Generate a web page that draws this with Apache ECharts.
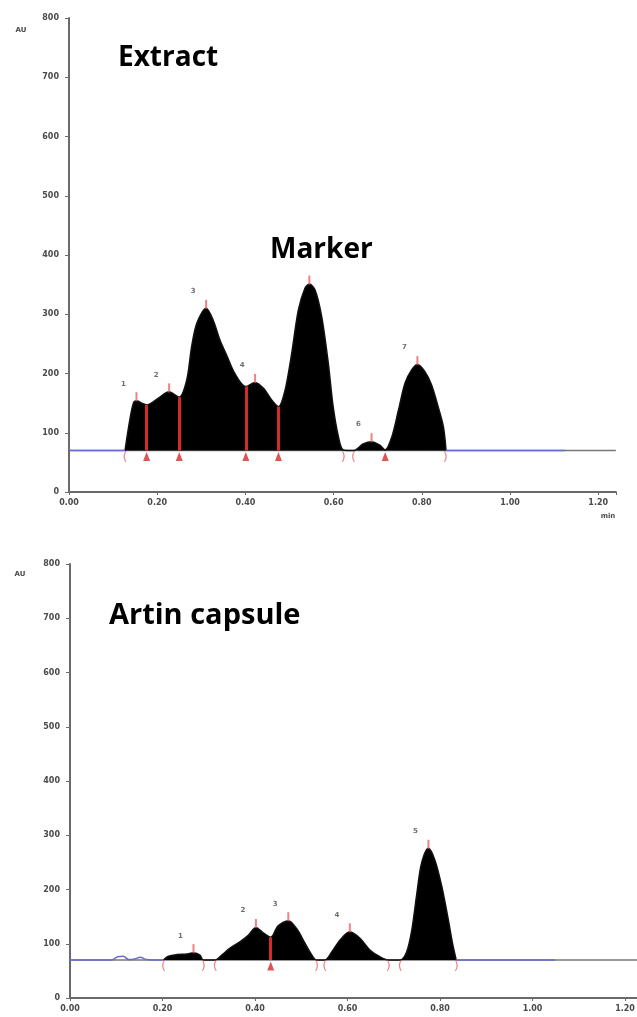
<!DOCTYPE html>
<html><head><meta charset="utf-8">
<script src="https://cdn.jsdelivr.net/npm/echarts@6/dist/echarts.min.js"></script>
<style>html,body{margin:0;padding:0;background:#fff}#c{width:637px;height:1017px}</style>
</head><body><div id="c"></div>
<script>
// ---------- data ----------
const baselineAU = 70;
const xMax = 1.24;
const yMax = 800;

// Extract trace [min, AU]
const extractTrace = [[0.127,70],[0.138,122],[0.146,150],[0.153,154],[0.165,150],[0.176,147],[0.202,158],[0.227,169],[0.240,164],[0.250,160],[0.267,189],[0.278,245],[0.290,285],[0.311,310],[0.327,290],[0.342,257],[0.358,230],[0.376,200],[0.401,178],[0.422,185],[0.441,175],[0.460,155],[0.475,144],[0.490,172],[0.505,234],[0.520,307],[0.535,344],[0.545,351],[0.558,341],[0.573,296],[0.588,217],[0.599,144],[0.611,93],[0.622,71],[0.645,70],[0.667,81],[0.686,85],[0.705,79],[0.717,71],[0.732,93],[0.747,138],[0.762,184],[0.777,206],[0.790,215],[0.807,203],[0.822,181],[0.837,144],[0.849,110],[0.855,70]];
const extractBlue1 = [[0,70],[0.127,70]];
const extractBlue2 = [[0.855,70],[1.125,70]];
const extractPeakX = [0.153,0.227,0.311,0.422,0.545,0.686,0.790];
const extractPeakY = [154,169,310,185,351,85,215];
const extractPeakLabels = ['1','2','3','4','','6','7'];
const extractDividerX = [0.176,0.250,0.401,0.475];
const extractDividerY = [147,160,178,144];
const extractFeetX = [0.176,0.250,0.401,0.475,0.717];
const extractOpenX = [0.127,0.645];
const extractCloseX = [0.622,0.853];

// Artin capsule trace [min, AU]
const capsuleTrace = [[0.202,70],[0.213,77],[0.231,80],[0.252,81],[0.267,83.5],[0.281,79],[0.288,70],[0.314,70],[0.328,79],[0.346,92],[0.368,104],[0.386,116],[0.402,130],[0.418,120],[0.434,112],[0.450,133],[0.472,142.5],[0.490,128],[0.508,101],[0.523,79],[0.533,70],[0.551,70],[0.566,85],[0.584,107],[0.605,122],[0.627,110],[0.649,88],[0.670,76],[0.688,70],[0.714,70],[0.728,85],[0.739,125],[0.750,193],[0.760,248],[0.775,276],[0.789,254],[0.804,205],[0.818,144],[0.827,101],[0.835,70]];
const capsuleBlue1 = [[0,70],[0.09,70],[0.103,76],[0.115,77],[0.127,71],[0.14,72],[0.152,75],[0.165,71],[0.202,70]];
const capsuleBlue2 = [[0.835,70],[1.049,70]];
const capsulePeakX = [0.267,0.402,0.472,0.605,0.775];
const capsulePeakY = [83.5,130,142.5,122,276];
const capsulePeakLabels = ['1','2','3','4','5'];
const capsuleDividerX = [0.434];
const capsuleDividerY = [112];
const capsuleFeetX = [0.434];
const capsuleOpenX = [0.202,0.314,0.551,0.714];
const capsuleCloseX = [0.288,0.533,0.688,0.835];

// ---------- styles ----------
const RED = '#d42a2a', PINK = '#e86464', BLUE = '#6b6bd6', AXIS = '#6a6a6a', TXT = '#4a4a4a';
const tickFont = {fontFamily:'DejaVu Sans', fontWeight:'bold', fontSize:8, color:TXT};

function xAxisFor(gi){
  return {type:'value', gridIndex:gi, min:0, max:xMax, interval:0.2,
    axisLine:{show:true, onZero:false, lineStyle:{color:AXIS, width:2}},
    axisTick:{show:true, length:3, lineStyle:{color:AXIS}},
    axisLabel:Object.assign({margin:7, formatter:v=>Math.abs(v/0.2-Math.round(v/0.2))<1e-6? v.toFixed(2):''}, tickFont),
    splitLine:{show:false}};
}
function yAxisFor(gi){
  return {type:'value', gridIndex:gi, min:0, max:yMax, interval:100,
    axisLine:{show:true, lineStyle:{color:AXIS, width:2}},
    axisTick:{show:true, length:4, lineStyle:{color:AXIS}},
    axisLabel:Object.assign({margin:10}, tickFont),
    splitLine:{show:false}};
}
function seriesFor(gi, trace, blues, peakX, peakY, peakLabels, divX, divY, feetX, openX, closeX){
  const ax = {xAxisIndex:gi, yAxisIndex:gi};
  const s = [];
  s.push(Object.assign({type:'line', data:[[0,baselineAU],[xMax,baselineAU]], symbol:'none', silent:true,
    lineStyle:{color:'#777', width:1.5}, z:1}, ax));
  s.push(Object.assign({type:'line', data:trace, symbol:'none', smooth:0.3, silent:true,
    lineStyle:{color:'#111', width:1.5}, areaStyle:{color:'#000', opacity:1, origin:baselineAU}, z:2,
    markLine:{silent:true, symbol:'none', label:{show:false}, lineStyle:{color:RED, width:3, type:'solid'},
      data:divX.map((x,i)=>[{coord:[x,baselineAU]},{coord:[x,divY[i]]}])}}, ax));
  blues.forEach(b=>s.push(Object.assign({type:'line', data:b, symbol:'none', smooth:0.4, silent:true,
    lineStyle:{color:BLUE, width:1.6}, z:3}, ax)));
  s.push(Object.assign({type:'scatter', data:feetX.map(x=>[x,baselineAU]), symbol:'triangle', symbolSize:[7,9],
    symbolOffset:[0,6], itemStyle:{color:RED}, silent:true, z:4}, ax));
  s.push(Object.assign({type:'scatter', data:peakX.map((x,i)=>[x,peakY[i]]), symbol:'rect', symbolSize:[2,9],
    symbolOffset:[0,-4], itemStyle:{color:PINK}, silent:true, z:4}, ax));
  const brk = (xs, ch) => Object.assign({type:'scatter', data:xs.map(x=>[x,baselineAU]), symbol:'circle', symbolSize:1,
    itemStyle:{color:'rgba(0,0,0,0)'}, silent:true, z:5,
    label:{show:true, position:'inside', offset:[0,7], formatter:ch, color:PINK, fontSize:13, fontFamily:'DejaVu Sans'}}, ax);
  s.push(brk(openX,'('));
  s.push(brk(closeX,')'));
  s.push(Object.assign({type:'scatter', data:peakX.map((x,i)=>[x,peakY[i]]), symbol:'circle', symbolSize:1,
    itemStyle:{color:'rgba(0,0,0,0)'}, silent:true, z:5,
    label:{show:true, position:'inside', offset:[-13,-17], formatter:p=>peakLabels[p.dataIndex],
      color:TXT, fontSize:7, fontWeight:'bold', fontFamily:'DejaVu Sans'}}, ax));
  return s;
}

const chart = echarts.init(document.getElementById('c'), null, {renderer:'canvas'});
const titleFont = 'bold 28px "Open Sans"';
chart.setOption({
  animation:false,
  backgroundColor:'#fff',
  grid:[
    {left:69, top:18, width:xMax*441, height:474, outerBoundsMode:'none', containLabel:false},
    {left:70, top:564, width:xMax*462.5, height:434, outerBoundsMode:'none', containLabel:false}
  ],
  xAxis:[xAxisFor(0), xAxisFor(1)],
  yAxis:[yAxisFor(0), yAxisFor(1)],
  series:[].concat(
    seriesFor(0, extractTrace, [extractBlue1, extractBlue2], extractPeakX, extractPeakY, extractPeakLabels,
      extractDividerX, extractDividerY, extractFeetX, extractOpenX, extractCloseX),
    seriesFor(1, capsuleTrace, [capsuleBlue1, capsuleBlue2], capsulePeakX, capsulePeakY, capsulePeakLabels,
      capsuleDividerX, capsuleDividerY, capsuleFeetX, capsuleOpenX, capsuleCloseX)
  ),
  graphic:[
    {type:'text', style:{x:118, y:58, text:'Extract', font:titleFont, fill:'#000', textAlign:'left', textVerticalAlign:'middle', verticalAlign:'middle'}},
    {type:'text', style:{x:270, y:250, text:'Marker', font:titleFont, fill:'#000', textAlign:'left', textVerticalAlign:'middle', verticalAlign:'middle'}},
    {type:'text', style:{x:109, y:616, text:'Artin capsule', font:'bold 29px "Open Sans"', fill:'#000', textAlign:'left', textVerticalAlign:'middle', verticalAlign:'middle'}},
    {type:'text', style:{x:21, y:30, text:'AU', font:'bold 7px "DejaVu Sans"', fill:TXT, textAlign:'center', verticalAlign:'middle', textVerticalAlign:'middle'}},
    {type:'text', style:{x:20, y:574, text:'AU', font:'bold 7px "DejaVu Sans"', fill:TXT, textAlign:'center', verticalAlign:'middle', textVerticalAlign:'middle'}},
    {type:'text', style:{x:608, y:516, text:'min', font:'bold 7px "DejaVu Sans"', fill:TXT, textAlign:'center', verticalAlign:'middle', textVerticalAlign:'middle'}}
  ]
});
</script></body></html>
